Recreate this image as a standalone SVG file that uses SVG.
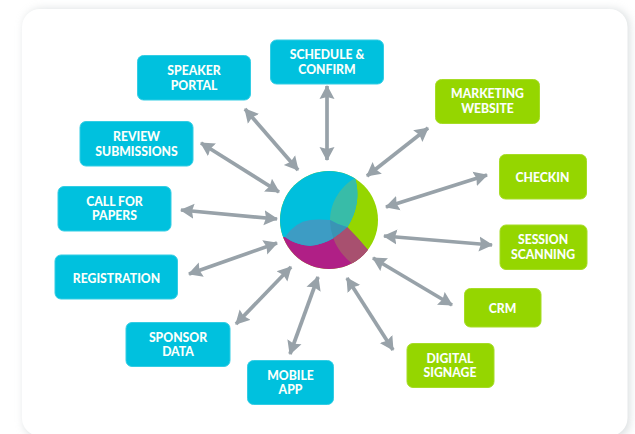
<svg xmlns="http://www.w3.org/2000/svg" width="635" height="434" viewBox="0 0 635 434">
<style>
.n{stroke-width:1;rx:6px}
.c{fill:#00c1de;stroke:#33cde4}
.g{fill:#95d600;stroke:#a6dc26}
text{font-family:"Lato","Noto Sans",sans-serif;font-weight:900;font-size:12.2px;fill:#fbfffb;text-anchor:middle}
.a{stroke:#98a2a9;stroke-width:3.7;fill:none;marker-start:url(#h);marker-end:url(#h)}
</style>
<defs>
<marker id="h" viewBox="0 0 14 16" refX="13" refY="8" markerWidth="14" markerHeight="16" markerUnits="userSpaceOnUse" orient="auto-start-reverse"><path d="M0,0.500 L14,8 L0,15.500 L2,8Z" fill="#98a2a9"/></marker>
<filter id="s" x="-10%" y="-10%" width="120%" height="120%"><feGaussianBlur stdDeviation="4"/></filter>
<clipPath id="cc"><circle cx="329" cy="220" r="49"/></clipPath>
</defs>
<rect width="635" height="434" fill="#fff"/>
<rect x="24" y="9" width="606" height="430" rx="18" fill="#c4cbce" opacity=".6" filter="url(#s)"/>
<rect x="22" y="9" width="605.500" height="427" rx="18" fill="#fff"/>
<g id="connectors">
<line class="a" x1="245" y1="109" x2="298" y2="170"/>
<line class="a" x1="201" y1="143" x2="279" y2="192"/>
<line class="a" x1="181" y1="210" x2="277" y2="219"/>
<line class="a" x1="189" y1="274" x2="277" y2="243"/>
<line class="a" x1="236" y1="324" x2="291" y2="267"/>
<line class="a" x1="290" y1="354" x2="318" y2="277"/>
<line class="a" x1="327" y1="86" x2="327" y2="160"/>
<line class="a" x1="428" y1="128" x2="367" y2="176"/>
<line class="a" x1="487" y1="175" x2="386" y2="207"/>
<line class="a" x1="492" y1="245" x2="384" y2="236"/>
<line class="a" x1="452" y1="305" x2="373" y2="258"/>
<line class="a" x1="393" y1="350" x2="347" y2="278"/>
</g>
<g id="hub" clip-path="url(#cc)">
<rect x="270" y="160" width="120" height="120" fill="#95d600"/>
<path d="M270,237 L285,237 L347.300,227.300 Q358,238 367.300,249.300 L380,260 L380,280 L270,280Z" fill="#b01f86"/>
<path d="M355,178 C360,195 357,212 347.300,227.300 Q340,234 333.300,238.300 Q322,245 310,245.700 Q296,245 285,237 L270,237 L270,160 L350,160Z" fill="#00bfdd"/>
<path d="M355,178 C360,195 357,212 347.300,227.300 Q338,225 330,220 C330,205 338,188 355,178Z" fill="#38bca8"/>
<path d="M285,237 Q296,245 310,245.700 Q322,245 333.300,238.300 Q340,234 347.300,227.300 Q338,225 330,220 Q318,219 310,220 Q295,222 285,237Z" fill="#3d9cc4"/>
<path d="M330,220 Q338,225 347.300,227.300 Q340,234 333.300,238.300 Q330,229 330,220Z" fill="#3a94b4"/>
<path d="M347.300,227.300 Q358,238 367.300,249.300 L378,258 L358,275 L351.700,263.300 Q338,252 333.300,238.300 Q340,234 347.300,227.300Z" fill="#a8506f"/>
</g>
<g id="speaker-portal"><rect class="n c" x="137.500" y="55.500" width="113" height="44.500"/><text x="194" y="75">SPEAKER</text><text x="194" y="90">PORTAL</text></g>
<g id="schedule-confirm"><rect class="n c" x="270.500" y="40" width="113" height="44"/><text x="327" y="59">SCHEDULE &amp;</text><text x="327" y="74">CONFIRM</text></g>
<g id="review-submissions"><rect class="n c" x="80" y="121.500" width="113" height="44.500"/><text x="136.500" y="141">REVIEW</text><text x="136.500" y="156">SUBMISSIONS</text></g>
<g id="call-for-papers"><rect class="n c" x="58" y="186.500" width="113" height="44.500"/><text x="114.500" y="206">CALL FOR</text><text x="114.500" y="220">PAPERS</text></g>
<g id="registration"><rect class="n c" x="55" y="255" width="122.500" height="44"/><text x="116.500" y="283">REGISTRATION</text></g>
<g id="sponsor-data"><rect class="n c" x="126" y="322.500" width="104" height="44"/><text x="178" y="342">SPONSOR</text><text x="178" y="356">DATA</text></g>
<g id="mobile-app"><rect class="n c" x="247.500" y="360.500" width="86" height="44"/><text x="290.500" y="380">MOBILE</text><text x="290.500" y="394">APP</text></g>
<g id="marketing-website"><rect class="n g" x="435.500" y="79.500" width="104" height="44"/><text x="487.500" y="98">MARKETING</text><text x="487.500" y="113">WEBSITE</text></g>
<g id="checkin"><rect class="n g" x="499.500" y="154.500" width="87" height="44.500"/><text x="542.500" y="182">CHECKIN</text></g>
<g id="session-scanning"><rect class="n g" x="500" y="225" width="87" height="44.500"/><text x="543" y="244">SESSION</text><text x="543" y="259">SCANNING</text></g>
<g id="crm"><rect class="n g" x="464.500" y="288.500" width="76.500" height="38.500"/><text x="502.500" y="313">CRM</text></g>
<g id="digital-signage"><rect class="n g" x="407" y="343.500" width="87" height="44"/><text x="450" y="363">DIGITAL</text><text x="450" y="377">SIGNAGE</text></g>
</svg>
